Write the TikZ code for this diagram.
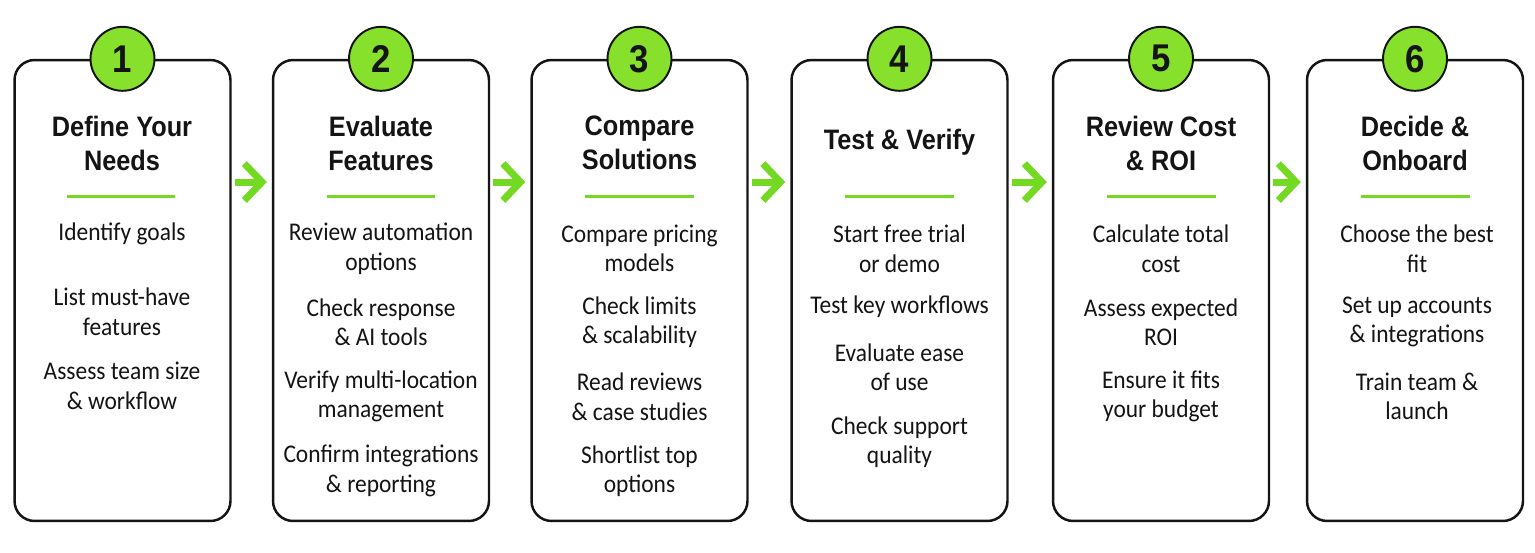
\documentclass[tikz,border=0pt]{standalone}
\usepackage{fontspec}
\setmainfont{Carlito}[FakeStretch=0.92]
\newfontfamily\headfont{Liberation Sans}[FakeStretch=0.9]
\usetikzlibrary{arrows.meta}
\definecolor{limegreen}{HTML}{74D922}
\definecolor{badgegreen}{HTML}{86E02C}
\definecolor{inkblack}{HTML}{141414}

\tikzset{
  card/.style={draw=inkblack, line width=1.4pt, rounded corners=0.4cm, fill=white,
    minimum width=4.32cm, minimum height=9.22cm},
  badge/.style={circle, draw=inkblack, line width=1.1pt, fill=badgegreen, minimum size=1.28cm,
    inner sep=0pt, text=inkblack, font=\headfont\bfseries\fontsize{22}{22}\selectfont},
  title/.style={align=center, text=inkblack, font=\headfont\bfseries\fontsize{16}{19.4}\selectfont},
  bar/.style={fill=limegreen, minimum width=2.18cm, minimum height=0.06cm, inner sep=0pt},
  item/.style={align=center, text=inkblack, font=\fontsize{14.5}{16.8}\selectfont},
  flow/.style={limegreen, line width=4pt, -{Straight Barb[length=10pt,width=21pt]},
    shorten <=0.06cm, shorten >=0.1cm},
}

\begin{document}
\begin{tikzpicture}[x=0.02cm, y=-0.02cm]
  \fill[white] (0,0) rectangle (1535,552);
  \useasboundingbox (0,0) rectangle (1535,552);

  % cards
  \node[card] (c1) at (122.5,290.5) {};
  \node[card] (c2) at (381,290.5) {};
  \node[card] (c3) at (639.5,290.5) {};
  \node[card] (c4) at (899.5,290.5) {};
  \node[card] (c5) at (1161,290.5) {};
  \node[card] (c6) at (1415,290.5) {};

  % numbers
  \node[badge] (b1) at (c1.north) {1};
  \node[badge] (b2) at (c2.north) {2};
  \node[badge] (b3) at (c3.north) {3};
  \node[badge] (b4) at (c4.north) {4};
  \node[badge] (b5) at (c5.north) {5};
  \node[badge] (b6) at (c6.north) {6};

  % titles
  \node[title] (t1) at (122,143) {Define Your\\Needs};
  \node[title] (t2) at (381,143) {Evaluate\\Features};
  \node[title] (t3) at (639.5,143) {Compare\\Solutions};
  \node[title] (t4) at (899.5,142) {Test \& Verify};
  \node[title] (t5) at (1161,143) {Review Cost\\\& ROI};
  \node[title] (t6) at (1415,143) {Decide \&\\Onboard};

  \node[bar] (u1) at (121,196) {};
  \node[bar] (u2) at (381,196) {};
  \node[bar] (u3) at (639.5,196) {};
  \node[bar] (u4) at (899.5,196) {};
  \node[bar] (u5) at (1161,196) {};
  \node[bar] (u6) at (1415,196) {};

  % step 1
  \node[item] (s1a) at (122,234) {Identify goals};
  \node[item] (s1b) at (122,311.5) {List must-have\\features};
  \node[item] (s1c) at (122,386) {Assess team size\\\& workflow};
  % step 2
  \node[item] (s2a) at (381,248.5) {Review automation\\options};
  \node[item] (s2b) at (381,322) {Check response\\\& AI tools};
  \node[item] (s2c) at (381,396.5) {Verify multi-location\\management};
  \node[item] (s2d) at (381,471) {Confirm integrations\\\& reporting};
  % step 3
  \node[item] (s3a) at (639.5,248.5) {Compare pricing\\models};
  \node[item] (s3b) at (639.5,322) {Check limits\\\& scalability};
  \node[item] (s3c) at (639.5,396.5) {Read reviews\\\& case studies};
  \node[item] (s3d) at (639.5,471) {Shortlist top\\options};
  % step 4
  \node[item] (s4a) at (899.5,248.5) {Start free trial\\or demo};
  \node[item] (s4b) at (899.5,307) {Test key workflows};
  \node[item] (s4c) at (899.5,367) {Evaluate ease\\of use};
  \node[item] (s4d) at (899.5,442) {Check support\\quality};
  % step 5
  \node[item] (s5a) at (1161,248.5) {Calculate total\\cost};
  \node[item] (s5b) at (1161,322) {Assess expected\\ROI};
  \node[item] (s5c) at (1161,396.5) {Ensure it fits\\your budget};
  % step 6
  \node[item] (s6a) at (1417,248.5) {Choose the best\\fit};
  \node[item] (s6b) at (1417,322) {Set up accounts\\\& integrations};
  \node[item] (s6c) at (1417,396.5) {Train team \&\\launch};

  % arrows between steps
  \draw[flow] ([yshift=2.17cm]c1.east) -- ([yshift=2.17cm]c2.west);
  \draw[flow] ([yshift=2.17cm]c2.east) -- ([yshift=2.17cm]c3.west);
  \draw[flow] ([yshift=2.17cm]c3.east) -- ([yshift=2.17cm]c4.west);
  \draw[flow] ([yshift=2.17cm]c4.east) -- ([yshift=2.17cm]c5.west);
  \draw[flow] ([yshift=2.17cm]c5.east) -- ([yshift=2.17cm]c6.west);
\end{tikzpicture}
\end{document}
